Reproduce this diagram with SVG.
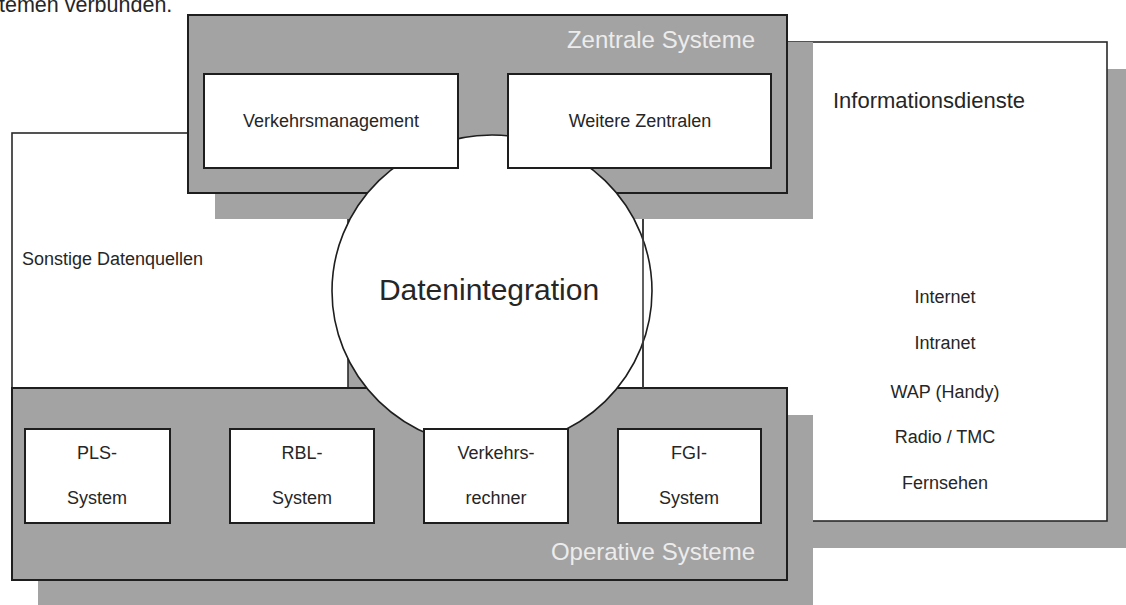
<svg xmlns="http://www.w3.org/2000/svg" width="1126" height="605" viewBox="0 0 1126 605">
  <style>
    text { font-family: "Liberation Sans", Arial, sans-serif; fill: #262626; }
    .shadow { fill: #a3a3a3; }
    .panel { fill: #a3a3a3; stroke: #1e1e1e; stroke-width: 2; }
    .box { fill: #ffffff; stroke: #1e1e1e; stroke-width: 2; }
    .area { fill: #ffffff; stroke: #2a2a2a; stroke-width: 1.6; }
    .edge { stroke: #3a3a3a; stroke-width: 1.6; fill: none; }
    .lbl { font-size: 18px; text-anchor: middle; }
    .title { font-size: 24px; fill: #ececec; text-anchor: end; }
  </style>
  <rect x="0" y="0" width="1126" height="605" fill="#ffffff"/>

  <!-- caption line running off the top edge -->
  <text x="-1" y="12" font-size="21.5">temen verbunden.</text>

  <!-- other data sources -->
  <g id="sonstige-datenquellen">
    <rect class="shadow" x="38" y="160" width="336" height="255"/>
    <rect class="area" x="12" y="133" width="336" height="255"/>
    <text x="22" y="265" font-size="18">Sonstige Datenquellen</text>
  </g>

  <!-- information services -->
  <g id="informationsdienste">
    <rect class="shadow" x="669" y="69" width="470" height="479"/>
    <rect class="area" x="643" y="42" width="464" height="479"/>
    <text x="833" y="108" font-size="22">Informationsdienste</text>
    <text class="lbl" x="945" y="303">Internet</text>
    <text class="lbl" x="945" y="349">Intranet</text>
    <text class="lbl" x="945" y="398">WAP (Handy)</text>
    <text class="lbl" x="945" y="443">Radio / TMC</text>
    <text class="lbl" x="945" y="489">Fernsehen</text>
  </g>

  <!-- central systems panel -->
  <g id="zentrale-systeme">
    <rect class="shadow" x="215" y="42" width="598" height="177"/>
    <rect class="panel" x="188" y="15" width="599" height="178"/>
    <text class="title" x="755" y="48">Zentrale Systeme</text>
  </g>

  <!-- operative systems panel -->
  <g id="operative-systeme">
    <rect class="shadow" x="38" y="415" width="775" height="200"/>
    <rect class="panel" x="12" y="388" width="775" height="192"/>
    <text class="title" x="755" y="560" font-size="25">Operative Systeme</text>
  </g>

  <!-- data integration hub -->
  <g id="datenintegration">
    <ellipse cx="492" cy="291" rx="160" ry="156" fill="#ffffff" stroke="#1e1e1e" stroke-width="1.6"/>
    <text x="489" y="300" font-size="30" text-anchor="middle">Datenintegration</text>
  </g>

  <g id="verkehrsmanagement">
    <rect class="box" x="204" y="74" width="254" height="94"/>
    <text class="lbl" x="331" y="127">Verkehrsmanagement</text>
  </g>
  <g id="weitere-zentralen">
    <rect class="box" x="508" y="74" width="263" height="94"/>
    <text class="lbl" x="640" y="127">Weitere Zentralen</text>
  </g>

  <g id="pls-system">
    <rect class="box" x="25" y="429" width="145" height="94"/>
    <text class="lbl" x="97" y="459">PLS-</text>
    <text class="lbl" x="97" y="504">System</text>
  </g>
  <g id="rbl-system">
    <rect class="box" x="230" y="429" width="144" height="94"/>
    <text class="lbl" x="302" y="459">RBL-</text>
    <text class="lbl" x="302" y="504">System</text>
  </g>
  <g id="verkehrsrechner">
    <rect class="box" x="424" y="429" width="144" height="94"/>
    <text class="lbl" x="496" y="459">Verkehrs-</text>
    <text class="lbl" x="496" y="504">rechner</text>
  </g>
  <g id="fgi-system">
    <rect class="box" x="618" y="429" width="143" height="94"/>
    <text class="lbl" x="689" y="459">FGI-</text>
    <text class="lbl" x="689" y="504">System</text>
  </g>

  <!-- left border of the information area, drawn over the hub -->
  <g id="connectors">
    <line class="edge" x1="643" y1="219" x2="643" y2="388"/>
  </g>
</svg>
